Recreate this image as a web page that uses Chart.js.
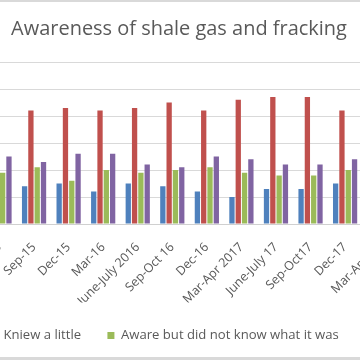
<!DOCTYPE html>
<html>
<head>
<meta charset="utf-8">
<script src="https://cdn.jsdelivr.net/npm/chart.js@4.4.1/dist/chart.umd.min.js"></script>
<style>
html,body{margin:0;padding:0;width:360px;height:360px;overflow:hidden;background:#ffffff;}
#frame{position:absolute;left:0;top:0;width:360px;height:360px;overflow:hidden;background:#fff;}
#wrap{position:absolute;top:0;}
#topline{position:absolute;left:0;top:0;width:360px;height:2px;background:#d9d9d9;}
#botline{position:absolute;left:0;top:357px;width:360px;height:3px;background:#d9d9d9;}
</style>
</head>
<body>
<div id="frame">
  <div id="wrap"><canvas id="c"></canvas></div>
  <div id="topline"></div>
  <div id="botline"></div>
</div>
<script>
// ---- data ----
const chartTitle = 'Awareness of shale gas and fracking';
const categories = ['Jun-15', 'Sep-15', 'Dec-15', 'Mar-16', 'June-July 2016', 'Sep-Oct 16', 'Dec-16', 'Mar-Apr 2017', 'June-July 17', 'Sep-Oct17', 'Dec-17', 'Mar-Apr 18'];
const seriesNames = ['Knew a lot', 'Kniew a little', 'Aware but did not know what it was', 'Never heard of it'];
const knewALot      = [null, 14, 15, 12, 15, 14, 12, 10, 13, 13, 15, null];
const knewALittle   = [null, 42, 43, 42, 43, 45, 42, 46, 47, 47, 42, null];
const awareNotKnow  = [19, 21, 16, 20, 19, 20, 21, 19, 18, 18, 20, null];
const neverHeard    = [25, 23, 26, 26, 22, 21, 25, 24, 22, 22, 24, null];
const yTickMin = 0, yTickMax = 60, yTickStep = 10;

// ---- style ----
const FONT = 'Open Sans';
const boxSize = 7;
const textColor = '#595959', gridColor = '#d9d9d9';
const colors = ['#4F81BD', '#C0504D', '#9BBB59', '#8064A2'];

// ---- font sizes fitted to the reference text widths ----
const mc = document.createElement('canvas').getContext('2d');
function widthAt(text, size) { mc.font = size + 'px "' + FONT + '"'; return mc.measureText(text).width; }
const titleSize = 18 * 336 / widthAt(chartTitle, 18);
const legendSize = 12 * 218 / widthAt(seriesNames[2], 12);
const tickSize = legendSize * 0.95;

// ---- layout (the visible window is a crop of a wider chart) ----
const tws = seriesNames.map(s => widthAt(s, legendSize));
const half = legendSize / 2;
const redBoxX = 3 - half - boxSize;
const legPad = 107 - (redBoxX + boxSize + half + tws[1]);
const blueBoxX = redBoxX - legPad - (boxSize + half + tws[0]);
const S0 = Math.round(blueBoxX - legPad);
const itemsW = tws.reduce((a, t) => a + boxSize + half + t, 0);
const needed = itemsW + 5 * legPad + 4;
const W = Math.ceil(Math.max(2 * (179 - S0), needed));
const H = 380;
const catW = 34.56;
const plotLeft = -0.5 - catW / 2;
const plotRight = plotLeft + categories.length * catW;
const yAxisW = plotLeft - S0;
const rightW = S0 + W - plotRight;
const legendCenterY = 335.5;
const pb = H - legendCenterY - (legendSize + 10) + legendSize / 2;
const legendTop = H - pb - (legendSize + legPad + 10);
const plotBottom = 224;
const xAxisH = legendTop - plotBottom;
const titleLH = titleSize * 1.2;
const titlePadTop = 29.8 - titleLH / 2;
const titlePadBottom = 62 - titlePadTop - titleLH;
const titleCenterX = 179;

const wrap = document.getElementById('wrap');
wrap.style.left = S0 + 'px';
const cv = document.getElementById('c');
cv.width = W; cv.height = H;
cv.style.width = W + 'px'; cv.style.height = H + 'px';

const seriesData = [knewALot, knewALittle, awareNotKnow, neverHeard];

// keeps the title centred on the visible window of the wider chart
const centreTitle = {
  id: 'centreTitle',
  afterLayout(chart) {
    const tb = chart.titleBlock;
    if (!tb) return;
    const shift = (titleCenterX - S0) - (tb.left + tb.right) / 2;
    tb.left += shift; tb.right += shift;
  }
};

new Chart(cv, {
  type: 'bar',
  data: {
    labels: categories,
    datasets: seriesNames.map((name, i) => ({
      label: name,
      data: seriesData[i],
      backgroundColor: colors[i],
      borderWidth: 0,
      barPercentage: 0.84,
      categoryPercentage: 0.73
    }))
  },
  plugins: [centreTitle],
  options: {
    responsive: false,
    devicePixelRatio: 1,
    animation: false,
    layout: { padding: { left: 0, right: 0, top: 0, bottom: pb } },
    plugins: {
      title: {
        display: true,
        text: chartTitle,
        color: textColor,
        font: { family: FONT, size: titleSize, weight: 'normal' },
        padding: { top: titlePadTop, bottom: titlePadBottom }
      },
      legend: {
        position: 'bottom',
        align: 'start',
        labels: {
          boxWidth: boxSize,
          boxHeight: boxSize,
          padding: legPad,
          color: textColor,
          font: { family: FONT, size: legendSize }
        }
      },
      tooltip: { enabled: false }
    },
    scales: {
      x: {
        grid: { display: false, drawTicks: false },
        border: { display: true, color: '#d0d0d0', width: 1 },
        ticks: {
          color: textColor,
          font: { family: FONT, size: tickSize },
          maxRotation: 45, minRotation: 45,
          autoSkip: false,
          padding: 16
        },
        afterFit: s => { s.height = xAxisH; }
      },
      y: {
        min: yTickMin, max: yTickMax,
        ticks: { stepSize: yTickStep, color: textColor, font: { family: FONT, size: tickSize } },
        grid: { color: gridColor, drawTicks: false },
        border: { display: false },
        afterFit: s => { s.width = yAxisW; }
      },
      y2: {
        type: 'linear',
        position: 'right',
        display: true,
        grid: { display: false, drawTicks: false },
        ticks: { display: false },
        border: { display: false },
        afterFit: s => { s.width = rightW; }
      }
    }
  }
});
</script>
</body>
</html>
